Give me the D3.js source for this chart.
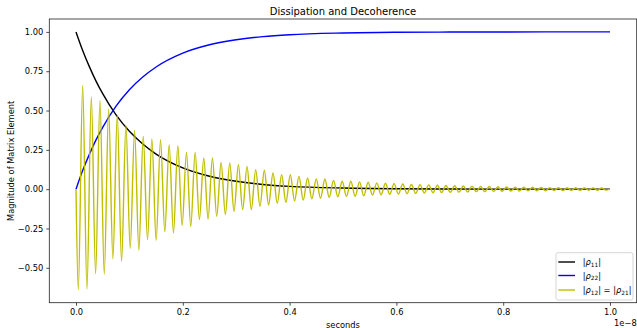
<!DOCTYPE html>
<html>
<head>
<meta charset="utf-8">
<script src="https://cdn.jsdelivr.net/npm/d3@7"></script>
<style>
  body { margin: 0; background: #fff; }
  text { font-family: "DejaVu Sans", sans-serif; fill: #000; }
</style>
</head>
<body>
<svg id="chart" width="637" height="328"></svg>
<script>
// populations (units of 1e-8 s on the x axis)
const popTimes = [0, 0.0125, 0.025, 0.0375, 0.05, 0.075, 0.1, 0.125, 0.15, 0.2, 0.25, 0.3, 0.35, 0.4, 0.5, 0.6, 0.7, 0.8, 0.9, 1.0];
const rho11 = [1.0, 0.882, 0.779, 0.687, 0.607, 0.472, 0.368, 0.287, 0.223, 0.135, 0.082, 0.05, 0.03, 0.018, 0.007, 0.0025, 0.001, 0.0003, 0.0001, 0.0];
const rho22 = [0.0, 0.118, 0.221, 0.313, 0.393, 0.528, 0.632, 0.713, 0.777, 0.865, 0.918, 0.95, 0.97, 0.982, 0.993, 0.9975, 0.999, 0.9997, 0.9999, 1.0];

// coherence: extremes of the oscillation
const firstTrough = 0.0043;
const firstPeak = 0.0125;
const period = 0.0162;
const troughs = [-0.64, -0.635, -0.537, -0.54, -0.444, -0.459, -0.377, -0.389, -0.321, -0.326,
  -0.27, -0.279, -0.23, -0.237, -0.194, -0.19, -0.173, -0.162, -0.141, -0.13,
  -0.13, -0.109, -0.1, -0.09, -0.085, -0.075, -0.07, -0.062, -0.058, -0.052,
  -0.048, -0.046, -0.045, -0.042, -0.038, -0.036, -0.033, -0.031, -0.029, -0.027,
  -0.025, -0.023, -0.022, -0.02, -0.019, -0.018, -0.016, -0.016, -0.014, -0.013,
  -0.012, -0.012, -0.011, -0.01, -0.01, -0.009, -0.009, -0.008, -0.008, -0.007,
  -0.007, -0.006];
const peaks = [0.66, 0.586, 0.563, 0.51, 0.472, 0.405, 0.375, 0.336, 0.32, 0.315,
  0.283, 0.277, 0.234, 0.234, 0.198, 0.198, 0.17, 0.167, 0.156, 0.145,
  0.124, 0.12, 0.103, 0.092, 0.092, 0.081, 0.071, 0.065, 0.065, 0.056,
  0.05, 0.05, 0.046, 0.044, 0.04, 0.038, 0.035, 0.033, 0.03, 0.029,
  0.027, 0.025, 0.023, 0.022, 0.02, 0.019, 0.017, 0.017, 0.015, 0.014,
  0.013, 0.012, 0.012, 0.011, 0.01, 0.01, 0.009, 0.009, 0.008, 0.008,
  0.007];

const xTicks = [0, 0.2, 0.4, 0.6, 0.8, 1.0];
const yTicks = [-0.5, -0.25, 0, 0.25, 0.5, 0.75, 1.0];
const legendLabels = [
  { color: "#000000", a: "11", b: null },
  { color: "#0000ff", a: "22", b: null },
  { color: "#bfbf00", a: "12", b: "21" }
];

const d3svg = d3.select("#chart");
const margin = { left: 49.3, right: 636.7, top: 19, bottom: 302.7 };
const fs = 8.3;
const lw = 1.4;

const xScale = d3.scaleLinear().domain([-0.05, 1.05]).range([margin.left, margin.right]);
const yScale = d3.scaleLinear().domain([-0.722, 1.082]).range([margin.bottom, margin.top]);

// build series
const popData = popTimes.map((t, i) => ({ t: t, a: rho11[i], b: rho22[i] }));
let cohData = [{ t: 0, v: 0 }];
troughs.forEach((v, i) => cohData.push({ t: firstTrough + i * period, v: v }));
peaks.forEach((v, i) => cohData.push({ t: firstPeak + i * period, v: v }));
cohData = cohData.filter(d => d.t <= 1.0).sort((p, q) => p.t - q.t);
cohData.push({ t: 1.0, v: 0 });

const graph = d3svg.append("g");

const lineA = d3.line().x(d => xScale(d.t)).y(d => yScale(d.a)).curve(d3.curveMonotoneX);
const lineB = d3.line().x(d => xScale(d.t)).y(d => yScale(d.b)).curve(d3.curveMonotoneX);
const lineC = d3.line().x(d => xScale(d.t)).y(d => yScale(d.v)).curve(d3.curveMonotoneX);

graph.append("path").attr("d", lineA(popData))
  .attr("fill", "none").attr("stroke", "#000000").attr("stroke-width", lw);
graph.append("path").attr("d", lineB(popData))
  .attr("fill", "none").attr("stroke", "#0000ff").attr("stroke-width", lw);
graph.append("path").attr("d", lineC(cohData))
  .attr("fill", "none").attr("stroke", "#bfbf00").attr("stroke-width", lw)
  .attr("stroke-linejoin", "round");

// axes
const xAxis = d3svg.append("g")
  .attr("transform", `translate(0,${margin.bottom})`)
  .call(d3.axisBottom(xScale).tickValues(xTicks).tickFormat(d3.format(".1f")).tickSize(3).tickPadding(3));
const yAxis = d3svg.append("g")
  .attr("transform", `translate(${margin.left},0)`)
  .call(d3.axisLeft(yScale).tickValues(yTicks).tickFormat(d3.format(".2f")).tickSize(3).tickPadding(3));
[xAxis, yAxis].forEach(ax => {
  ax.select(".domain").remove();
  ax.selectAll("line").attr("stroke", "#000").attr("stroke-width", 0.7);
  ax.selectAll("text").attr("font-size", fs).attr("font-family", "DejaVu Sans").attr("fill", "#000");
});

// frame
d3svg.append("rect")
  .attr("x", margin.left).attr("y", margin.top)
  .attr("width", margin.right - margin.left).attr("height", margin.bottom - margin.top)
  .attr("fill", "none").attr("stroke", "#222").attr("stroke-width", 0.8);

// labels
const midX = (margin.left + margin.right) / 2;
d3svg.append("text").attr("x", midX).attr("y", 15)
  .attr("text-anchor", "middle").attr("font-size", 10)
  .text("Dissipation and Decoherence");
d3svg.append("text").attr("x", midX).attr("y", 327.5)
  .attr("text-anchor", "middle").attr("font-size", fs)
  .text("seconds");
d3svg.append("text").attr("x", margin.right).attr("y", 326)
  .attr("text-anchor", "end").attr("font-size", fs)
  .text("1e\u22128");
d3svg.append("text")
  .attr("transform", `translate(13.5,${(margin.top + margin.bottom) / 2}) rotate(-90)`)
  .attr("text-anchor", "middle").attr("font-size", fs)
  .text("Magnitude of Matrix Element");

// legend
const legend = d3svg.append("g");
legend.append("rect")
  .attr("x", 556).attr("y", 252.7).attr("width", 77).attr("height", 47.3)
  .attr("rx", 2).attr("fill", "#fff").attr("fill-opacity", 0.8)
  .attr("stroke", "#cccccc").attr("stroke-width", 0.8);
const rowY = [262, 275.5, 290];
const rows = legend.selectAll("g.row").data(legendLabels).enter().append("g").attr("class", "row");
rows.append("line")
  .attr("x1", 558.3).attr("x2", 575)
  .attr("y1", (d, i) => rowY[i]).attr("y2", (d, i) => rowY[i])
  .attr("stroke", d => d.color).attr("stroke-width", lw);
rows.each(function (d, i) {
  const t = d3.select(this).append("text")
    .attr("x", 582.7).attr("y", rowY[i] + 3).attr("font-size", fs);
  const addRho = (sub, lead) => {
    t.append("tspan").text(lead + "|");
    t.append("tspan").attr("font-style", "italic").text("\u03c1");
    t.append("tspan").attr("font-size", fs * 0.7).attr("dy", 1.8).text(sub);
    t.append("tspan").attr("dy", -1.8).text("|");
  };
  addRho(d.a, "");
  if (d.b) addRho(d.b, " = ");
});
</script>
</body>
</html>
